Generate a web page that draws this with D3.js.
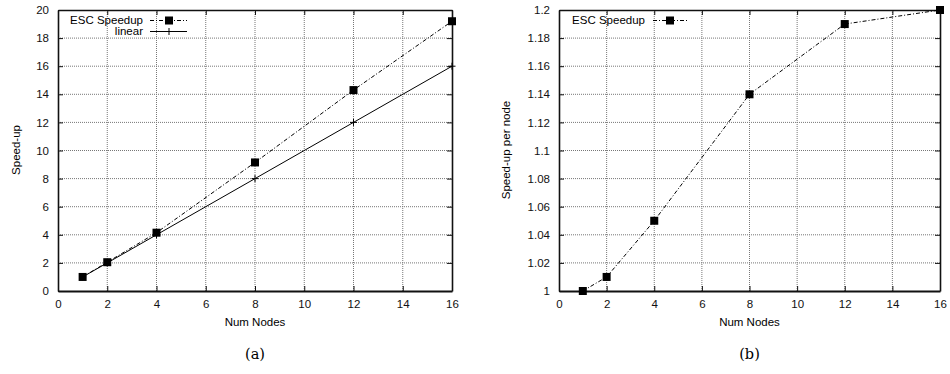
<!DOCTYPE html>
<html><head><meta charset="utf-8">
<script src="https://cdn.jsdelivr.net/npm/d3@7"></script>
<style>body{margin:0;background:#fff}svg{display:block}</style>
</head><body>
<svg id="c" width="950" height="374"></svg>
<script>
const nodes = [1, 2, 4, 8, 12, 16];
const escSpeedup = [1, 2.05, 4.15, 9.15, 14.3, 19.2];
const linear = [1, 2, 4, 8, 12, 16];
const escPerNode = [1, 1.01, 1.05, 1.14, 1.19, 1.2];
const xTicks = [0, 2, 4, 6, 8, 10, 12, 14, 16];
const yTicksA = [0, 2, 4, 6, 8, 10, 12, 14, 16, 18, 20];
const yTicksB = [1, 1.02, 1.04, 1.06, 1.08, 1.1, 1.12, 1.14, 1.16, 1.18, 1.2];
const yTickLabelsB = ["1","1.02","1.04","1.06","1.08","1.1","1.12","1.14","1.16","1.18","1.2"];

const svg = d3.select("#c");
const font = "'Liberation Sans', Arial, sans-serif";

function panel(opt) {
  const g = svg.append("g");
  const x = d3.scaleLinear().domain([0, 16]).range([opt.left, opt.right]);
  const y = d3.scaleLinear().domain(opt.yDomain).range([291, 10]);
  g.append("g").selectAll("line").data(xTicks.slice(1, -1)).join("line")
    .attr("x1", d => x(d)).attr("x2", d => x(d)).attr("y1", 10).attr("y2", 291)
    .attr("stroke", "#777").attr("stroke-width", 1).attr("stroke-dasharray", "1,1");
  g.append("g").selectAll("line").data(opt.yTicks.slice(1, -1)).join("line")
    .attr("y1", d => y(d)).attr("y2", d => y(d)).attr("x1", opt.left).attr("x2", opt.right)
    .attr("stroke", "#777").attr("stroke-width", 1).attr("stroke-dasharray", "1,1");
  const bottom = g.append("g").attr("transform", `translate(0,291)`)
    .call(d3.axisBottom(x).tickValues(xTicks).tickSizeInner(-5).tickSizeOuter(0).tickPadding(9));
  const top = g.append("g").attr("transform", `translate(0,10)`)
    .call(d3.axisTop(x).tickValues(xTicks).tickSizeInner(-5).tickSizeOuter(0).tickFormat(""));
  const left = g.append("g").attr("transform", `translate(${opt.left},0)`)
    .call(d3.axisLeft(y).tickValues(opt.yTicks).tickSizeInner(-5).tickSizeOuter(0).tickPadding(9)
      .tickFormat((d, i) => opt.yLabels[i]));
  const right = g.append("g").attr("transform", `translate(${opt.right},0)`)
    .call(d3.axisRight(y).tickValues(opt.yTicks).tickSizeInner(-5).tickSizeOuter(0).tickFormat(""));
  [bottom, top, left, right].forEach(a => {
    a.select(".domain").attr("stroke", "#111").attr("stroke-width", 1.6);
    a.selectAll(".tick line").attr("stroke", "#111");
    a.selectAll("text").attr("font-family", font).attr("font-size", 11.5).attr("fill", "#111");
  });
  bottom.select(".domain").attr("stroke-width", 2);
  g.append("text").attr("x", (opt.left + opt.right) / 2).attr("y", 326)
    .attr("text-anchor", "middle").attr("font-family", font).attr("font-size", 11.5).text("Num Nodes");
  g.append("text").attr("transform", `translate(${opt.ylabX},150) rotate(-90)`)
    .attr("text-anchor", "middle").attr("font-family", font).attr("font-size", 11.5).text(opt.ylab);
  g.append("text").attr("x", (opt.left + opt.right) / 2).attr("y", 359)
    .attr("text-anchor", "middle").attr("font-family", "'DejaVu Serif', 'Liberation Serif', serif")
    .attr("font-size", 14.5).text(opt.caption);
  return {g, x, y};
}

function squares(g, pts) {
  g.append("g").selectAll("rect").data(pts).join("rect")
    .attr("x", d => d[0] - 4).attr("y", d => d[1] - 4).attr("width", 8).attr("height", 8).attr("fill", "#000");
}
function plus(g, pts) {
  g.append("g").selectAll("path").data(pts).join("path")
    .attr("d", d => `M${d[0]-3.5},${d[1]}H${d[0]+3.5}M${d[0]},${d[1]-3.5}V${d[1]+3.5}`)
    .attr("stroke", "#000").attr("stroke-width", 1);
}

const A = panel({left: 58, right: 452, yDomain: [0, 20], yTicks: yTicksA, yLabels: yTicksA.map(String),
  ylab: "Speed-up", ylabX: 20, caption: "(a)"});
const linePathA = d3.line().x((d, i) => A.x(nodes[i])).y(d => A.y(d));
A.g.append("path").datum(linear).attr("d", linePathA).attr("fill", "none").attr("stroke", "#000").attr("stroke-width", 1);
A.g.append("path").datum(escSpeedup).attr("d", linePathA).attr("fill", "none").attr("stroke", "#000")
  .attr("stroke-width", 1).attr("stroke-dasharray", "4,2,1,2");
plus(A.g, linear.map((d, i) => [A.x(nodes[i]), A.y(d)]));
squares(A.g, escSpeedup.map((d, i) => [A.x(nodes[i]), A.y(d)]));
A.g.append("text").attr("x", 143).attr("y", 24).attr("text-anchor", "end").attr("font-family", font).attr("font-size", 11.5).text("ESC Speedup");
A.g.append("line").attr("x1", 150).attr("x2", 187).attr("y1", 20.5).attr("y2", 20.5).attr("stroke", "#000").attr("stroke-dasharray", "4,2,1,2");
squares(A.g, [[169, 20.5]]);
A.g.append("text").attr("x", 143).attr("y", 35).attr("text-anchor", "end").attr("font-family", font).attr("font-size", 11.5).text("linear");
A.g.append("line").attr("x1", 150).attr("x2", 187).attr("y1", 31.5).attr("y2", 31.5).attr("stroke", "#000");
plus(A.g, [[169, 31.5]]);

const B = panel({left: 559, right: 940, yDomain: [1, 1.2], yTicks: yTicksB, yLabels: yTickLabelsB,
  ylab: "Speed-up per node", ylabX: 510, caption: "(b)"});
const linePathB = d3.line().x((d, i) => B.x(nodes[i])).y(d => B.y(d));
B.g.append("path").datum(escPerNode).attr("d", linePathB).attr("fill", "none").attr("stroke", "#000")
  .attr("stroke-width", 1).attr("stroke-dasharray", "4,2,1,2");
squares(B.g, escPerNode.map((d, i) => [B.x(nodes[i]), B.y(d)]));
B.g.append("text").attr("x", 645).attr("y", 24).attr("text-anchor", "end").attr("font-family", font).attr("font-size", 11.5).text("ESC Speedup");
B.g.append("line").attr("x1", 653).attr("x2", 688).attr("y1", 20.5).attr("y2", 20.5).attr("stroke", "#000").attr("stroke-dasharray", "4,2,1,2");
squares(B.g, [[670, 20.5]]);
</script>
</body></html>
